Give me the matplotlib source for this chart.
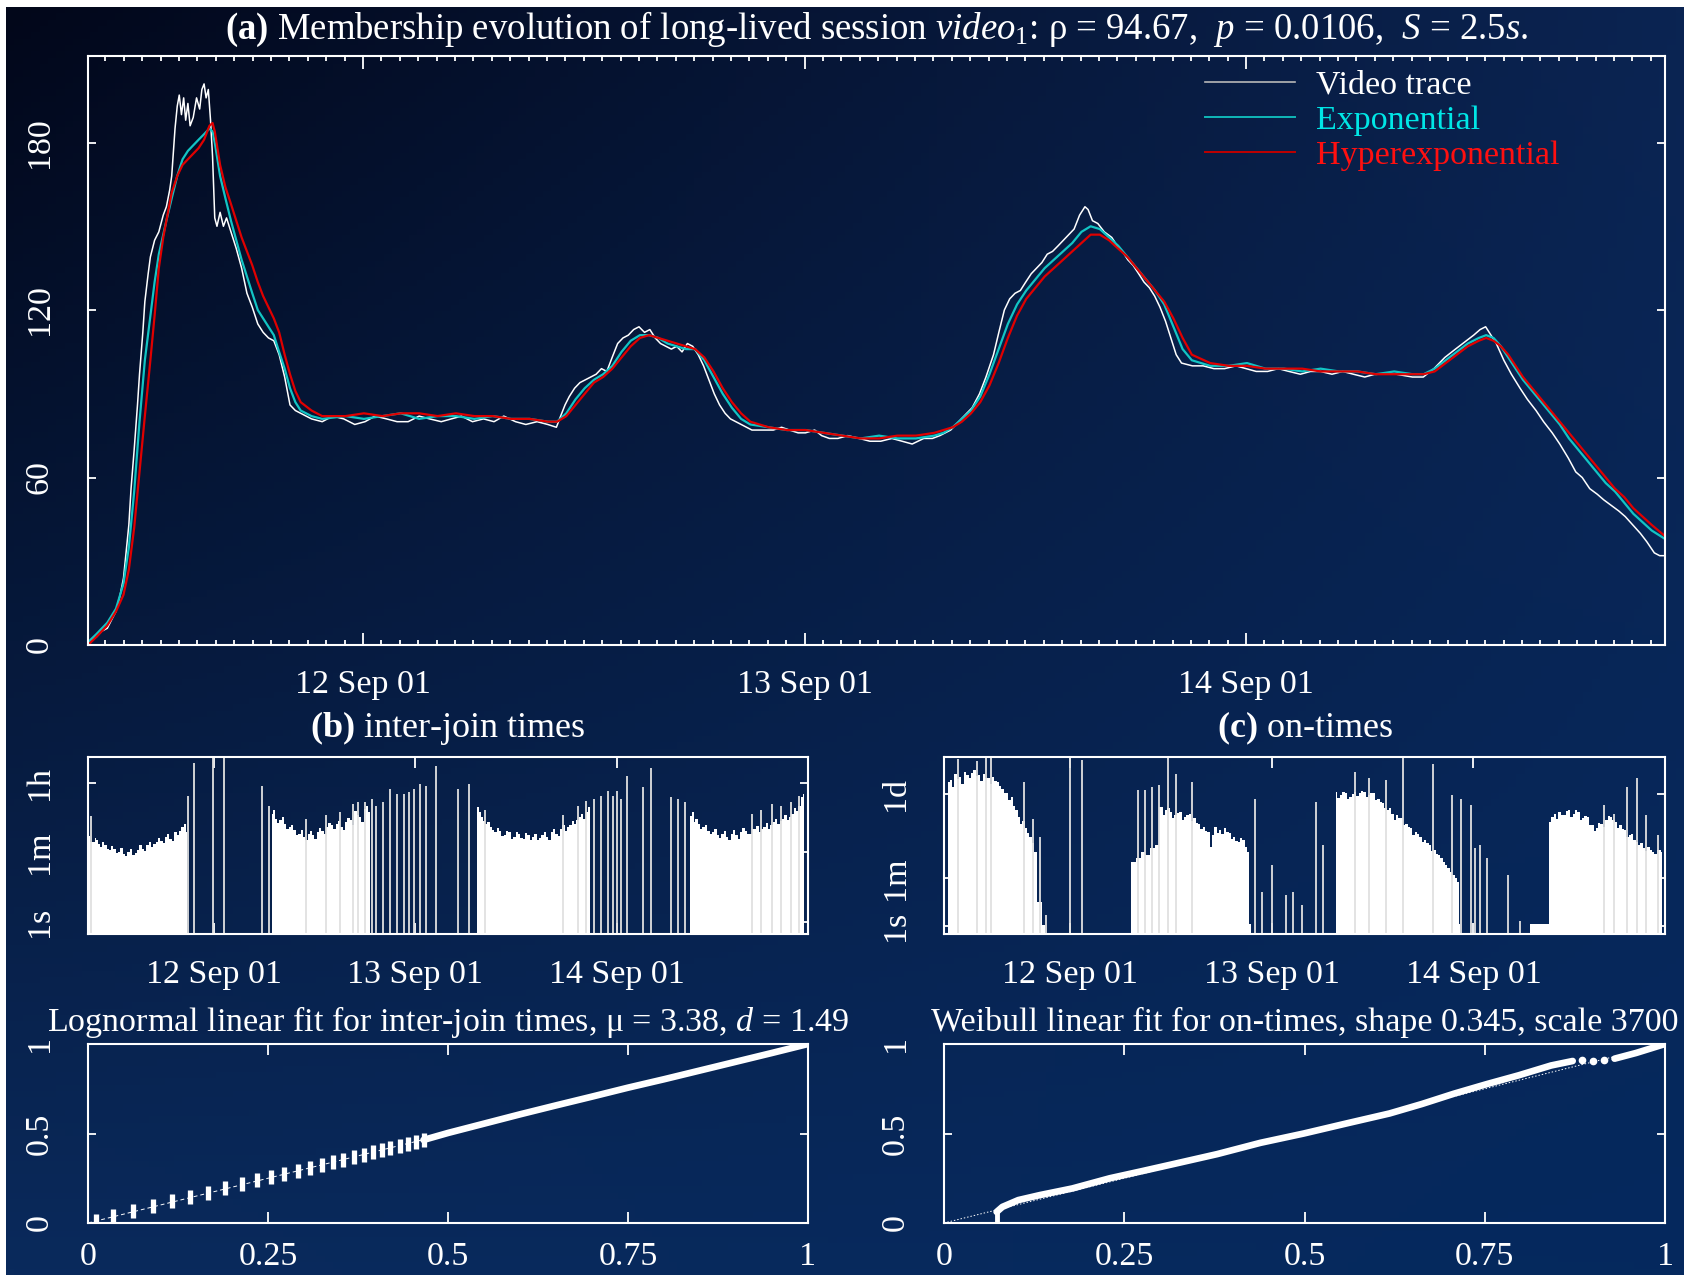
import numpy as np
import matplotlib
matplotlib.use('Agg')
import matplotlib.pyplot as plt
import matplotlib.dates as mdates
from matplotlib.lines import Line2D
from matplotlib.colors import to_rgb
from datetime import datetime

plt.rcParams['font.family'] = 'Liberation Serif'
plt.rcParams['mathtext.fontset'] = 'custom'
plt.rcParams['mathtext.rm'] = 'Liberation Serif'
plt.rcParams['mathtext.it'] = 'Liberation Serif:italic'
plt.rcParams['mathtext.bf'] = 'Liberation Serif:bold'

#%% data (hours since 11 Sep 2001 09:03)
t_start = datetime(2001, 9, 11, 9, 3)
t_span = 85.72

# (a) membership: video trace
video_h = [0, 0.23, 0.47, 0.76, 1.05, 1.28, 1.52, 1.75, 1.93, 2.10, 2.22, 2.34, 2.51, 2.69, 2.80, 2.98, 3.09, 3.27,
           3.39, 3.62, 3.85, 4.09, 4.26, 4.44, 4.55, 4.73, 4.85, 4.96, 5.08, 5.20, 5.31, 5.43, 5.55, 5.72, 5.90, 6.07,
           6.19, 6.31, 6.42, 6.54, 6.66, 6.77, 6.89, 7.01, 7.18, 7.36, 7.53, 7.77, 8.06, 8.35, 8.64, 8.93, 9.23, 9.52,
           9.81, 10.10, 10.39, 10.69, 10.98, 11.27, 11.56, 12.15, 12.73, 13.3, 13.9, 14.5, 15.06, 15.6, 16.23, 16.8,
           17.40, 18.0, 18.57, 19.2, 19.74, 20.3, 20.90, 21.5, 22.07, 22.6, 23.24, 23.8, 24.41, 24.99, 25.46, 25.69,
           25.93, 26.16, 26.45, 26.74, 27.03, 27.33, 27.62, 27.91, 28.20, 28.49, 28.79, 29.08, 29.37, 29.66, 29.95,
           30.25, 30.54, 30.83, 31.12, 31.41, 31.71, 32.00, 32.29, 32.58, 32.87, 33.17, 33.46, 33.75, 34.04, 34.33,
           34.63, 34.92, 35.50, 36.09, 36.67, 37.25, 37.7, 38.13, 38.6, 39.00, 39.5, 39.88, 40.3, 40.76, 41.3, 41.92,
           42.5, 43.09, 43.7, 44.26, 44.8, 45.43, 45.9, 46.30, 46.89, 47.47, 48.06, 48.46, 48.81, 49.22, 49.51, 49.81,
           50.10, 50.39, 50.68, 50.97, 51.27, 51.56, 51.85, 52.14, 52.43, 52.73, 53.02, 53.31, 53.60, 53.90, 54.19,
           54.36, 54.60, 54.89, 55.24, 55.65, 55.94, 56.23, 56.52, 56.81, 57.11, 57.40, 57.69, 57.98, 58.27, 58.57,
           58.86, 59.15, 59.44, 60.03, 60.61, 61.2, 61.78, 62.4, 62.95, 63.5, 64.12, 64.7, 65.28, 65.9, 66.45, 67.0,
           67.62, 68.2, 68.78, 69.4, 69.95, 70.5, 71.12, 71.99, 72.58, 73.16, 73.75, 74.33, 74.92, 75.32, 75.67, 75.97,
           76.26, 76.55, 76.96, 77.37, 77.84, 78.24, 78.71, 79.12, 79.59, 80.00, 80.46, 80.87, 81.22, 81.63, 82.04,
           82.39, 82.80, 83.21, 83.56, 83.97, 84.38, 84.73, 85.14, 85.43, 85.72]
video_n = [1, 2, 3, 5, 6, 9, 12, 18, 24, 35, 43, 56, 70, 86, 97, 112, 123, 133,
           139, 145, 148, 154, 157, 163, 168, 185, 193, 197, 190, 196, 188, 194, 186, 189, 196, 192,
           199, 201, 196, 199, 188, 175, 153, 150, 155, 150, 153, 148, 142, 135, 126, 121, 115, 112,
           110, 109, 104, 96, 86, 84, 83, 81, 80, 82, 81, 79, 80, 82, 81, 80,
           80, 82, 81, 80, 81, 82, 80, 81, 80, 82, 80, 79, 80, 79, 78, 82,
           86, 89, 92, 94, 95, 96, 97, 99, 98, 103, 108, 110, 111, 113, 114,
           112, 113, 110, 108, 107, 106, 107, 105, 108, 107, 104, 100, 95, 90, 86,
           83, 81, 79, 77, 77, 77, 78, 77, 76, 76, 77, 75, 74, 74, 75, 74,
           73, 73, 74, 73, 72, 74, 74, 75, 77, 81, 85, 90, 96, 104, 112, 120,
           124, 126, 127, 130, 133, 135, 137, 140, 141, 143, 145, 147, 149, 154, 157,
           156, 152, 151, 148, 146, 143, 141, 138, 136, 133, 130, 128, 125, 121, 116,
           110, 104, 101, 100, 100, 99, 99, 100, 99, 98, 98, 99, 98, 97, 98, 98,
           97, 98, 97, 96, 97, 97, 97, 96, 96, 99, 103, 106, 109, 111, 113, 114,
           111, 108, 102, 97, 92, 88, 84, 80, 76, 72, 67, 62, 60, 56, 54,
           52, 50, 48, 46, 43, 40, 37, 33, 32, 32]

# exponential fit
expo_h = [0, 0.47, 1.05, 1.52, 1.93, 2.22, 2.51, 2.80, 3.09, 3.39, 3.62, 3.85, 4.26, 4.55, 4.85, 5.14, 5.43, 5.72,
          6.01, 6.31, 6.60, 6.77, 6.89, 7.18, 7.47, 7.77, 8.06, 8.35, 8.64, 8.93, 9.23, 9.52, 9.81, 10.10, 10.39,
          10.69, 10.98, 11.27, 11.56, 12.15, 12.73, 14, 15, 16, 17, 18, 19, 20, 21, 22, 23, 24, 25.0, 25.5, 26.0,
          26.5, 27.0, 27.5, 28.0, 28.5, 29.0, 29.5, 30.0, 30.5, 31.0, 31.5, 32.0, 32.5, 33.0, 33.5, 34.0, 34.5, 35.0,
          35.5, 36.0, 37, 38, 39, 40, 41, 42, 43, 44, 45, 46, 46.5, 47, 47.5, 48, 48.5, 49, 49.5, 50.0, 50.5, 51.0,
          51.5, 52.0, 52.5, 53.0, 53.5, 54.0, 54.5, 55.0, 55.5, 56.0, 56.5, 57.0, 57.5, 58.0, 58.5, 59.0, 59.5, 60.0,
          61, 62, 63, 64, 65, 66, 67, 68, 69, 70, 71, 72, 72.6, 73.2, 73.8, 74.4, 75.0, 75.6, 76.0, 76.4, 76.8, 77.2,
          77.6, 78.0, 78.5, 79.0, 79.5, 80.0, 80.5, 81.0, 81.5, 82.0, 82.5, 83.0, 83.5, 84.0, 84.5, 85.0, 85.72]
expo_n = [1, 4, 8, 13, 22, 35, 55, 80, 102, 118, 130, 140, 152, 160, 168, 174, 177, 179,
          181, 183, 185, 184, 180, 168, 160, 152, 145, 138, 132, 126, 120, 117, 114, 111, 105,
          99, 92, 87, 84, 82, 81, 82, 81, 82, 83, 81, 82, 82, 81, 82, 81, 81, 80, 80, 83,
          88, 92, 95, 97, 100, 105, 109, 111, 111, 110, 108, 107, 106, 106, 102, 96, 90, 85,
          81, 79, 78, 77, 77, 76, 75, 74, 75, 74, 74, 75, 76, 78, 81, 84, 89, 97, 106, 115, 122, 127,
          131, 135, 138, 141, 144, 148, 150, 149, 146, 143, 139, 135, 131, 127, 122, 114, 106, 102,
          100, 100, 101, 99, 99, 98, 99, 98, 98, 97, 98, 97, 97, 99, 102, 105, 108, 110, 111, 110, 107, 103,
          99, 95, 91, 87, 83, 79, 74, 70, 66, 62, 58, 55, 51, 47, 44, 41, 38]

# hyperexponential fit
hyper_h = [0, 0.47, 1.05, 1.52, 1.93, 2.22, 2.51, 2.80, 3.09, 3.39, 3.62, 3.85, 4.09, 4.26, 4.55, 4.85, 5.14, 5.43,
           5.72, 6.01, 6.31, 6.60, 6.77, 6.89, 7.18, 7.47, 7.77, 8.06, 8.35, 8.64, 8.93, 9.23, 9.52, 9.81, 10.10,
           10.39, 10.69, 10.98, 11.27, 11.56, 12.15, 12.73, 14, 15, 16, 17, 18, 19, 20, 21, 22, 23, 24, 25.0, 25.5,
           26.0, 26.5, 27.0, 27.5, 28.0, 28.5, 29.0, 29.5, 30.0, 30.5, 31.0, 31.5, 32.0, 32.5, 33.0, 33.5, 34.0, 34.5,
           35.0, 35.5, 36.0, 37, 38, 39, 40, 41, 42, 43, 44, 45, 46, 46.5, 47, 47.5, 48, 48.5, 49, 49.5, 50.0, 50.5,
           51.0, 51.5, 52.0, 52.5, 53.0, 53.5, 54.0, 54.5, 55.0, 55.5, 56.0, 56.5, 57.0, 57.5, 58.0, 58.5, 59.0, 59.5,
           60.0, 61, 62, 63, 64, 65, 66, 67, 68, 69, 70, 71, 72, 72.6, 73.2, 73.8, 74.4, 75.0, 75.6, 76.0, 76.4, 76.8,
           77.2, 77.6, 78.0, 78.5, 79.0, 79.5, 80.0, 80.5, 81.0, 81.5, 82.0, 82.5, 83.0, 83.5, 84.0, 84.5, 85.0, 85.72]
hyper_n = [0, 3, 7, 12, 18, 27, 42, 62, 82, 102, 118, 135, 146, 152, 162, 168, 172, 174,
           176, 178, 181, 186, 187, 184, 172, 164, 158, 152, 146, 141, 136, 130, 125, 121, 117,
           112, 104, 97, 91, 87, 84, 82, 82, 83, 82, 83, 83, 82, 83, 82, 82, 81, 81, 80, 80,
           82, 86, 90, 94, 96, 99, 103, 107, 110, 111, 110, 109, 108, 107, 106, 103, 98, 92,
           87, 83, 80, 78, 77, 77, 76, 75, 74, 74, 75, 75, 76, 77, 78, 80, 83, 87, 93, 101, 110, 118,
           124, 128, 132, 135, 138, 141, 144, 147, 147, 145, 142, 139, 135, 131, 127, 123, 117, 110,
           104, 101, 100, 100, 99, 99, 99, 98, 98, 98, 97, 97, 97, 97, 98, 101, 104, 107, 109, 110, 109, 107,
           104, 100, 96, 92, 88, 84, 80, 76, 72, 68, 64, 60, 56, 53, 49, 46, 43, 39]

# (b) inter-join times [s]: upper edge of the dense blocks, and isolated long gaps
join_h = [0.11, 0.15, 0.40, 0.67, 0.90, 1.11, 1.30, 1.50, 1.80, 2.06, 2.35, 2.62, 2.90, 3.17, 3.45, 3.73, 4.00,
          4.29, 4.55, 4.84, 5.10, 5.40, 5.70, 5.96, 6.25, 6.51, 6.80, 7.07, 7.35, 7.63, 7.90, 8.18, 8.45, 8.74,
          9.00, 9.30, 9.55, 9.85, 10.15, 10.41, 10.70, 10.97, 11.25, 11.52, 11.80, 11.85,
          21.82, 21.90, 22.15, 22.38, 22.65, 22.93, 23.20, 23.49, 23.75, 24.05, 24.30, 24.60, 24.90, 25.16, 25.45,
          25.72, 26.00, 26.27, 26.55, 26.83, 27.10, 27.38, 27.65, 27.94, 28.20, 28.50, 28.75, 29.05, 29.35, 29.61,
          29.90, 30.17, 30.45, 30.72, 31.00, 31.28, 31.55, 31.84, 32.10, 32.39, 32.65, 32.95, 33.25, 33.51, 33.60,
          46.31, 46.42, 46.65, 46.87, 47.15, 47.42, 47.70, 47.98, 48.25, 48.54, 48.80, 49.09, 49.35, 49.65, 49.90,
          50.21, 50.50, 50.76, 51.05, 51.32, 51.60, 51.88, 52.15, 52.43, 52.70, 52.99, 53.25, 53.55, 53.80, 54.10,
          54.40, 54.66, 54.95, 55.21, 55.50, 55.77, 56.05, 56.33, 56.60, 56.88, 57.15, 57.44, 57.70, 58.00, 58.25,
          58.55, 58.85, 59.11, 59.40, 59.67, 59.75,
          71.63, 71.75, 72.00, 72.19, 72.45, 72.75, 73.00, 73.30, 73.60, 73.86, 74.15, 74.42, 74.70, 74.97, 75.25,
          75.53, 75.80, 76.09, 76.35, 76.64, 76.90, 77.20, 77.50, 77.76, 78.05, 78.31, 78.60, 78.87, 79.15, 79.43,
          79.70, 79.98, 80.25, 80.54, 80.80, 81.10, 81.40, 81.65, 81.95, 82.21, 82.50, 82.77, 83.05, 83.32, 83.60,
          83.88, 84.15, 84.44, 84.70, 84.99, 85.27, 85.30]
join_v = [0.3, 150, 110, 108, 140, 125, 95, 81, 110, 89, 70, 66, 85, 73, 58, 60, 75, 55, 48, 60, 72, 49, 58, 66,
          90, 73, 62, 89, 110, 81, 95, 108, 140, 118, 100, 145, 170, 130, 115, 194, 160, 213, 260, 316, 194, 0.3,
          0.3, 560, 700, 425, 330, 385, 470, 316, 240, 261, 300, 215, 160, 176, 220, 145, 120, 176, 210, 160, 130,
          194, 250, 213, 170, 261, 330, 287, 230, 316, 380, 261, 220, 348, 450, 385, 290, 690, 520, 466, 350, 760,
          900, 627, 0.3,
          0.3, 835, 620, 466, 380, 316, 360, 261, 220, 194, 250, 213, 150, 160, 210, 194, 130, 145, 200, 176, 140,
          130, 180, 160, 120, 145, 170, 119, 135, 160, 200, 145, 120, 194, 240, 176, 150, 236, 300, 213, 260, 287,
          380, 316, 400, 466, 560, 425, 620, 835, 0.3,
          0.3, 513, 620, 348, 420, 316, 230, 261, 290, 213, 170, 194, 230, 160, 140, 176, 210, 145, 120, 176, 220,
          160, 130, 194, 250, 213, 170, 176, 240, 236, 280, 194, 230, 261, 330, 236, 300, 348, 420, 316, 380, 425,
          520, 385, 460, 560, 780, 690, 900, 1510, 1830, 0.3]
join_gap_h = [0.39, 11.91, 12.63, 14.86, 16.14, 20.71, 21.54, 25.9, 28.3, 30.0, 31.6, 32.2, 32.95, 33.79, 34.34,
              35.18, 36.01, 36.74, 37.68, 38.24, 38.80, 39.52, 40.19, 41.41, 44.08, 45.31, 47.3, 56.5, 58.3, 59.3,
              60.22, 61.06, 61.89, 62.56, 63.01, 63.45, 64.12, 66.07, 67.01, 69.41, 70.24, 71.08, 79.0, 80.1, 81.40,
              82.50, 83.70, 84.70]
join_gap_v = [513, 1660, 11700, 20000, 20000, 2960, 930, 420, 520, 650, 1000, 1150, 1120, 1370, 930,
              1120, 2450, 1830, 1830, 2030, 2450, 3290, 2960, 9600, 2450, 3290, 700, 520, 900, 1200,
              1370, 1660, 2220, 1660, 2220, 1370, 5360, 2690, 8700, 1510, 1370, 1120, 560, 700, 1030,
              900, 1120, 1660]

# (c) on-times [s]
on_h = [0.50, 0.56, 0.83, 1.10, 1.39, 1.65, 1.95, 2.20, 2.50, 2.80, 3.06, 3.35, 3.62, 3.90, 4.17, 4.45, 4.73,
        5.00, 5.29, 5.55, 5.84, 6.10, 6.40, 6.70, 6.96, 7.25, 7.51, 7.80, 8.07, 8.35, 8.63, 8.90, 9.18, 9.45, 9.74,
        10.00, 10.30, 10.55, 10.85, 11.24, 11.97, 12.00,
        21.99, 22.54, 23.10, 23.66, 24.21, 24.77, 25.33, 25.88, 26.15, 26.44, 26.70, 27.00, 27.25, 27.55, 27.85,
        28.11, 28.40, 28.66, 28.95, 29.22, 29.50, 29.78, 30.05, 30.33, 30.60, 30.89, 31.15, 31.45, 31.73, 32.00,
        32.28, 32.55, 32.84, 33.10, 33.40, 33.70, 33.95, 34.25, 34.51, 34.80, 35.07, 35.35, 35.62, 35.90, 36.18,
        36.46, 36.50,
        46.48, 46.64, 46.90, 47.20, 47.50, 47.76, 48.05, 48.31, 48.60, 48.87, 49.15, 49.43, 49.70, 49.98, 50.25,
        50.54, 50.80, 51.10, 51.35, 51.65, 51.95, 52.21, 52.50, 52.77, 53.05, 53.32, 53.60, 53.88, 54.15, 54.44,
        54.70, 54.99, 55.25, 55.55, 55.85, 56.11, 56.40, 56.66, 56.95, 57.22, 57.50, 57.78, 58.05, 58.33, 58.60,
        58.89, 59.15, 59.45, 59.70, 60.00, 60.30, 60.56, 60.85, 61.12, 61.34, 61.40,
        69.60, 69.65, 71.75, 71.80, 72.08, 72.35, 72.64, 72.90, 73.19, 73.45, 73.75, 74.05, 74.31, 74.60, 74.86,
        75.15, 75.42, 75.70, 75.98, 76.25, 76.53, 76.80, 77.09, 77.35, 77.65, 77.90, 78.20, 78.50, 78.76, 79.05,
        79.32, 79.60, 79.87, 80.15, 80.43, 80.70, 80.99, 81.25, 81.54, 81.80, 82.10, 82.40, 82.66, 82.95, 83.21,
        83.50, 83.77, 84.05, 84.33, 84.60, 84.88, 85.10, 85.33, 85.40]
on_v = [0.3, 234000, 269000, 150000, 479000, 300000, 363000, 200000, 550000, 420000, 316000, 500000, 646000,
        380000, 417000, 250000, 479000, 330000, 316000, 200000, 363000, 260000, 234000, 170000, 132000, 90000,
        87000, 50000, 64600, 30000, 20900, 12000, 6600, 8000, 4370, 3000, 2140, 1200, 589, 8, 1.1, 0.3,
        0.3, 250, 330, 590, 445, 780, 1040, 27500, 14000, 20900, 26000, 18200, 10500, 13500, 16000,
        18200, 9000, 11700, 14000, 15500, 8500, 10200, 7000, 6600, 4000, 5000, 3500, 3240, 900, 2500,
        5000, 3000, 3720, 2600, 4370, 3300, 2820, 1800, 2140, 1500, 1380, 1900, 1590, 900, 590,
        1.2, 0.3,
        0.3, 100000, 60000, 75900, 95000, 87000, 55000, 64600, 85000, 100000, 70000, 87000, 110000, 100000, 65000,
        75900, 90000, 87000, 50000, 56200, 42000, 37200, 25000, 20900, 26000, 15500, 9000, 13500, 11000, 10200,
        6000, 6600, 5000, 4370, 2500, 3240, 2700, 2140, 1300, 1590, 1200, 1040, 600, 680, 500, 445, 330, 250,
        180, 141, 100, 79, 60, 45, 1.2, 0.3,
        0.3, 1.2, 1.2, 1.2, 7600, 12000, 15500, 10000, 18200, 14000, 13500, 19000, 20900, 12000, 15500, 21000,
        18200, 9000, 10200, 13000, 11700, 6000, 5750, 3500, 4370, 7000, 6600, 5000, 8900, 13000, 11700, 9000, 7600,
        4500, 5750, 4200, 3720, 2000, 2450, 2600, 1590, 1300, 1040, 1200, 780, 600, 880, 700, 590, 500, 680,
        700, 590, 0.3]
on_gap_h = [1.67, 3.9, 5.0, 5.6, 9.46, 10.6, 11.4, 12.13, 15.03, 16.42, 23.10, 23.93, 24.77, 25.60, 26.61,
            27.55, 29.50, 37.01, 37.85, 38.96, 40.63, 41.47, 42.58, 44.25, 45.08, 48.87, 50.54, 52.60, 54.55,
            58.17, 60.39, 61.50, 62.62, 63.17, 63.73, 64.57, 67.07, 68.46, 78.5, 79.6, 81.26, 82.38, 83.49, 84.88]
on_gap_v = [1.7e6, 1.4e6, 3e6, 3e6, 234000, 10000, 2000, 2.6, 3e6, 1.5e6, 115000, 115000, 155000, 178000, 3e6,
            479000, 234000, 56200, 19, 186, 14, 19, 6.2, 42700, 1040, 550000, 316000, 269000, 3e6,
            1.1e6, 75900, 56200, 31600, 776, 1040, 330, 79, 1.5, 31600, 15500, 155000, 316000, 13500, 2450]

# (d) lognormal fit: discrete part (points) and dense part (line)
logn_px = [0.011, 0.035, 0.062, 0.090, 0.117, 0.142, 0.166, 0.190, 0.214, 0.235, 0.254, 0.272, 0.291, 0.308,
           0.325, 0.340, 0.354, 0.369, 0.383, 0.396, 0.408, 0.420, 0.433, 0.444, 0.455, 0.466]
logn_py = [0.010, 0.040, 0.068, 0.095, 0.122, 0.146, 0.170, 0.193, 0.217, 0.238, 0.257, 0.274, 0.292, 0.309,
           0.325, 0.339, 0.353, 0.367, 0.381, 0.394, 0.406, 0.418, 0.431, 0.442, 0.453, 0.464]
logn_lx = [0.466, 0.50, 0.55, 0.60, 0.65, 0.70, 0.75, 0.80, 0.85, 0.90, 0.95, 1.0]
logn_ly = [0.464, 0.503, 0.555, 0.607, 0.657, 0.706, 0.756, 0.803, 0.852, 0.901, 0.950, 1.0]

# (e) weibull fit
weib_x = [0.073, 0.081, 0.103, 0.133, 0.178, 0.230, 0.275, 0.319, 0.379, 0.439, 0.499, 0.558, 0.618, 0.663,
          0.707, 0.752, 0.797, 0.842, 0.872]
weib_y = [0.062, 0.090, 0.128, 0.156, 0.193, 0.250, 0.290, 0.330, 0.385, 0.448, 0.500, 0.556, 0.612, 0.665,
          0.722, 0.775, 0.825, 0.880, 0.905]
weib_tx = [0.885, 0.900, 0.915]
weib_ty = [0.908, 0.905, 0.912]
weib_ex = [0.930, 0.960, 1.0]
weib_ey = [0.918, 0.950, 1.0]

#%% figure
W, H = 1684, 1275
fig = plt.figure(figsize=(W / 100, H / 100), dpi=100, facecolor='white')


def box(l, t, r, b):
    return [l / W, 1 - b / H, (r - l) / W, (b - t) / H]


def tx(h):
    return mdates.date2num(t_start) + np.asarray(h, dtype=float) / 24.0


# background gradient
bg = fig.add_axes(box(6, 7, W, H), zorder=-10)
tl, tr, bl, br = [np.array(to_rgb(c)) for c in ('#02071a', '#0b2452', '#0a2a5c', '#05295e')]
u = np.linspace(0, 1, 200)[None, :, None]
v = np.linspace(0, 1, 200)[:, None, None]
grad = (1 - v) * ((1 - u) * tl + u * tr) + v * ((1 - u) * bl + u * br)
bg.imshow(grad, aspect='auto', extent=[0, 1, 0, 1])
bg.axis('off')

FS = 24.5
WHITE = 'white'


def style(ax, xpad=19, ylen=6):
    ax.set_facecolor('none')
    for s in ax.spines.values():
        s.set_color(WHITE)
        s.set_linewidth(1.5)
    ax.tick_params(which='both', direction='in', colors=WHITE, top=True, right=True,
                   labelsize=FS, labelcolor=WHITE, width=1.3)
    ax.tick_params(axis='x', which='major', length=8, pad=xpad)
    ax.tick_params(axis='y', which='major', length=ylen, pad=24)
    for lab in ax.get_yticklabels():
        lab.set_rotation(90)
        lab.set_va('center')


def date_axis(ax):
    ax.set_xlim(tx(0), tx(t_span))
    ax.xaxis.set_major_locator(mdates.DayLocator())
    ax.xaxis.set_major_formatter(mdates.DateFormatter('%d %b %y'))


# (a) main panel
ax = fig.add_axes(box(88, 56, 1665, 645))
ax.plot(tx(video_h), video_n, color=WHITE, lw=1.1)
ax.plot(tx(expo_h), expo_n, color='#12c4c4', lw=1.6)
ax.plot(tx(hyper_h), hyper_n, color='#e00000', lw=1.6)
ax.set_ylim(0, 211)
ax.set_yticks([0, 60, 120, 180])
date_axis(ax)
ax.xaxis.set_minor_locator(mdates.HourLocator())
style(ax, xpad=18)
ax.tick_params(axis='x', which='minor', length=3.5)
ax.tick_params(axis='x', which='major', length=9)

handles = [Line2D([], [], color='#b8b8b8', lw=1.2), Line2D([], [], color='#10b8b8', lw=1.4),
           Line2D([], [], color='#c00000', lw=1.4)]
ax.legend(handles, ['Video trace', 'Exponential', 'Hyperexponential'], loc='upper left',
          bbox_to_anchor=(1205 / W, 1 - 70 / H), bbox_transform=fig.transFigure, frameon=False,
          fontsize=FS, labelcolor=[WHITE, '#00e6e6', '#ff1010'], handlelength=2.65, handletextpad=0.6,
          labelspacing=0.12, borderpad=0, borderaxespad=0)

fig.text(877 / W, 1 - 29 / H,
         r'$\mathbf{(a)}$ Membership evolution of long-lived session $\mathit{video}_1$: ρ = 94.67,  '
         r'$p$ = 0.0106,  $S$ = 2.5$s$.', ha='center', va='center', color=WHITE, fontsize=26.5)

# (b) inter-join times
axb = fig.add_axes(box(88, 757, 808, 934))
axb.set_yscale('log')
axb.fill_between(tx(join_h), 0.3, join_v, color=WHITE, lw=0, step='mid')
axb.vlines(tx(join_gap_h), 0.3, join_gap_v, color='#e0e0e0', lw=1.3)
axb.set_ylim(0.48, 16200)
axb.set_yticks([1, 60, 3600])
axb.set_yticklabels(['1s', '1m', '1h'])
axb.yaxis.set_minor_locator(matplotlib.ticker.NullLocator())
date_axis(axb)
style(axb, xpad=18)
fig.text(448 / W, 1 - 728 / H, r'$\mathbf{(b)}$ inter-join times', ha='center', va='center',
         color=WHITE, fontsize=26)

# (c) on-times
axc = fig.add_axes(box(944, 757, 1665, 934))
axc.set_yscale('log')
axc.fill_between(tx(on_h), 0.3, on_v, color=WHITE, lw=0, step='mid')
axc.vlines(tx(on_gap_h), 0.3, on_gap_v, color='#e0e0e0', lw=1.3)
axc.set_ylim(10 ** -0.30, 10 ** 6.30)
axc.set_yticks([1, 60, 86400])
axc.set_yticklabels(['1s', '1m', '1d'])
axc.yaxis.set_minor_locator(matplotlib.ticker.NullLocator())
date_axis(axc)
style(axc, xpad=18)
fig.text(1305 / W, 1 - 728 / H, r'$\mathbf{(c)}$ on-times', ha='center', va='center',
         color=WHITE, fontsize=26)

# (d) lognormal fit
axd = fig.add_axes(box(88, 1044, 808, 1223))
axd.plot([0, 1], [0, 1], color=WHITE, lw=0.7, ls=(0, (4, 3)))
axd.plot(logn_px, logn_py, ls='none', marker='|', ms=10, mew=3.8, color=WHITE)
axd.plot(logn_lx, logn_ly, color=WHITE, lw=4.8, solid_capstyle='round')
fig.text(448 / W, 1 - 1022 / H, r'Lognormal linear fit for inter-join times, μ = 3.38, $d$ = 1.49',
         ha='center', va='center', color=WHITE, fontsize=FS)

# (e) weibull fit
axe = fig.add_axes(box(944, 1044, 1665, 1223))
axe.plot([0, 1], [0, 1], color=WHITE, lw=0.7, ls=(0, (1.5, 2)))
axe.plot([weib_x[0], weib_x[0]], [-0.02, weib_y[0]], color=WHITE, lw=3.5)
axe.plot(weib_x, weib_y, color=WHITE, lw=4.8, solid_capstyle='round')
axe.plot(weib_tx, weib_ty, ls='none', marker='o', ms=4.5, color=WHITE)
axe.plot(weib_ex, weib_ey, color=WHITE, lw=4.8, solid_capstyle='round')
fig.text(1305 / W, 1 - 1022 / H, 'Weibull linear fit for on-times, shape 0.345, scale 3700',
         ha='center', va='center', color=WHITE, fontsize=FS)

for a in (axd, axe):
    a.set_xlim(0, 1)
    a.set_ylim(0, 1)
    a.set_xticks([0, 0.25, 0.5, 0.75, 1])
    a.set_xticklabels(['0', '0.25', '0.5', '0.75', '1'])
    a.set_yticks([0, 0.5, 1])
    a.set_yticklabels(['0', '0.5', '1'])
    style(a, xpad=13)

fig.savefig('out.png', dpi=100, facecolor=fig.get_facecolor())
